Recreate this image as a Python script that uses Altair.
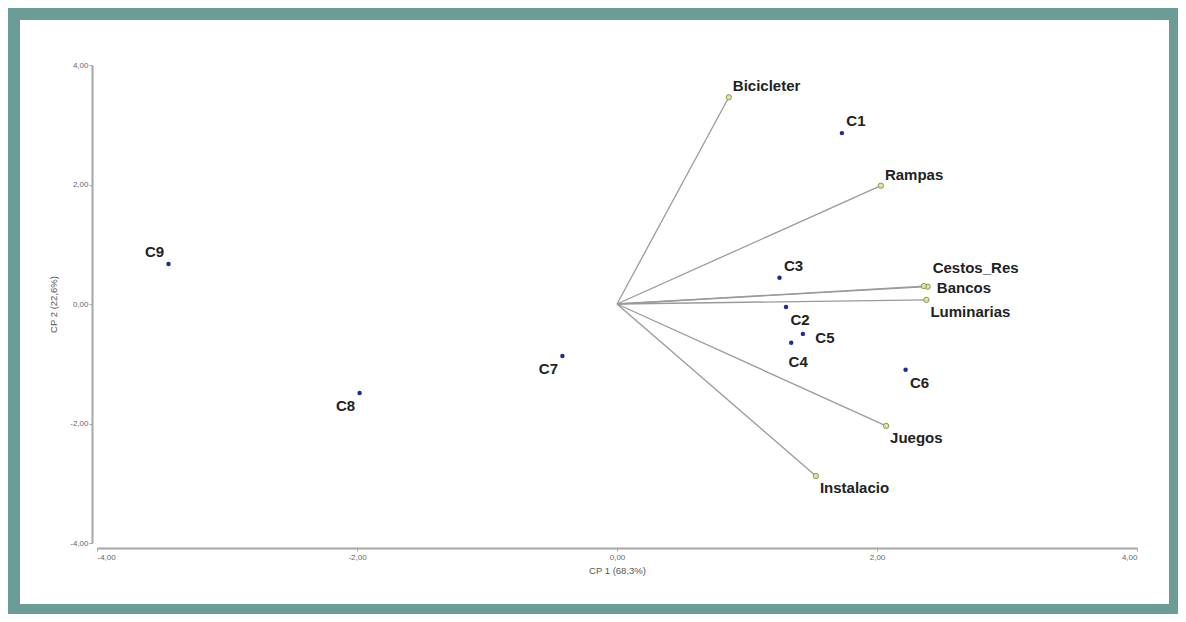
import altair as alt
import pandas as pd

# Cases (observations)
cases = ["C1", "C2", "C3", "C4", "C5", "C6", "C7", "C8", "C9"]
case_x = [1.73, 1.30, 1.25, 1.34, 1.43, 2.22, -0.42, -1.98, -3.45]
case_y = [2.86, -0.05, 0.44, -0.65, -0.50, -1.10, -0.87, -1.49, 0.67]
case_place = ["ur", "lr", "ur", "b", "r", "lr", "ll", "ll", "ul"]

# Variables (loading vectors)
variables = ["Bicicleter", "Rampas", "Cestos_Res", "Bancos", "Luminarias", "Juegos", "Instalacio"]
var_x = [0.86, 2.03, 2.39, 2.36, 2.38, 2.07, 1.53]
var_y = [3.46, 1.98, 0.29, 0.30, 0.07, -2.04, -2.88]
var_place = ["a", "a", "a2", "r", "b", "b", "b"]

tick_values = [-4, -2, 0, 2, 4]
x_title = "CP 1 (68,3%)"
y_title = "CP 2 (22,6%)"

cases_df = pd.DataFrame({"name": cases, "x": case_x, "y": case_y, "place": case_place})
vars_df = pd.DataFrame({"name": variables, "x": var_x, "y": var_y, "place": var_place})
vars_df["x0"] = 0.0
vars_df["y0"] = 0.0

FONT = "Liberation Sans"
label_expr = "replace(replace(format(datum.value, '.2f'), '.', ','), '\u2212', '-')"

xscale = alt.Scale(domain=[-4, 4], nice=False, zero=False)
yscale = alt.Scale(domain=[-4, 4], nice=False, zero=False)

xenc = alt.X("x:Q", scale=xscale, title=x_title,
             axis=alt.Axis(values=tick_values, labelExpr=label_expr, grid=False, offset=5,
                           domainColor="#a6a6a6", domainWidth=2, tickColor="#a6a6a6",
                           tickSize=3, labelFontSize=8, labelColor="#666666", labelFont=FONT,
                           labelPadding=2, titleFontSize=9.5, titleFont=FONT,
                           titleFontWeight="normal", titleColor="#555555", titlePadding=4,
                           zindex=1))
yenc = alt.Y("y:Q", scale=yscale, title=y_title,
             axis=alt.Axis(values=tick_values, labelExpr=label_expr, grid=False, offset=5,
                           domainColor="#a6a6a6", domainWidth=2, tickColor="#a6a6a6",
                           tickSize=3, labelFontSize=8, labelColor="#666666", labelFont=FONT,
                           labelPadding=1, titleFontSize=9.5, titleFont=FONT,
                           titleFontWeight="normal", titleColor="#555555", titlePadding=11,
                           zindex=1))

# white inner panel over teal background
frame = alt.Chart(pd.DataFrame({"k": [0]})).mark_rect(color="white", clip=False).encode(
    x=alt.value(-77), x2=alt.value(1072), y=alt.value(-45), y2=alt.value(539)
)

base_vars = alt.Chart(vars_df)
rules = base_vars.mark_rule(color="#9a9a9a", strokeWidth=1.3).encode(
    x=alt.X("x0:Q", scale=xscale), x2="x", y=alt.Y("y0:Q", scale=yscale), y2="y"
)
points_axes = base_vars.mark_point(filled=False, size=0).encode(x=xenc, y=yenc)
ends = base_vars.mark_point(shape="circle", filled=True, size=28, fill="#dfe3a3",
                            stroke="#8e9950", strokeWidth=1, opacity=1).encode(
    x=alt.X("x:Q", scale=xscale), y=alt.Y("y:Q", scale=yscale)
)

var_offsets = {"a": (4, -11), "a2": (5, -19), "r": (13, 2), "b": (4, 12)}
var_labels = []
for p, (dx, dy) in var_offsets.items():
    var_labels.append(
        base_vars.transform_filter(alt.datum.place == p).mark_text(
            align="left", baseline="middle", dx=dx, dy=dy, font=FONT, fontSize=15,
            fontWeight="bold", color="#222222"
        ).encode(x=alt.X("x:Q", scale=xscale), y=alt.Y("y:Q", scale=yscale), text="name:N")
    )

base_cases = alt.Chart(cases_df)
dots = base_cases.mark_circle(size=20, color="#1c2a9a", opacity=1).encode(
    x=alt.X("x:Q", scale=xscale), y=alt.Y("y:Q", scale=yscale)
)
case_offsets = {"ur": (14, -12), "lr": (14, 13), "b": (7, 19), "r": (22, 4),
                "ll": (-14, 13), "ul": (-14, -12)}
case_labels = []
for p, (dx, dy) in case_offsets.items():
    case_labels.append(
        base_cases.transform_filter(alt.datum.place == p).mark_text(
            align="center", baseline="middle", dx=dx, dy=dy, font=FONT, fontSize=15,
            fontWeight="bold", color="#222222"
        ).encode(x=alt.X("x:Q", scale=xscale), y=alt.Y("y:Q", scale=yscale), text="name:N")
    )

chart = alt.layer(frame, points_axes, rules, ends, *var_labels, dots, *case_labels).properties(
    width=1040, height=478,
    autosize=alt.AutoSizeParams(type="none"),
    padding={"left": 89, "top": 57, "right": 41, "bottom": 71},
    background="#6b9d96",
).configure_view(stroke=None)

chart.save("out.html", embed_options={"renderer": "svg", "actions": False})
